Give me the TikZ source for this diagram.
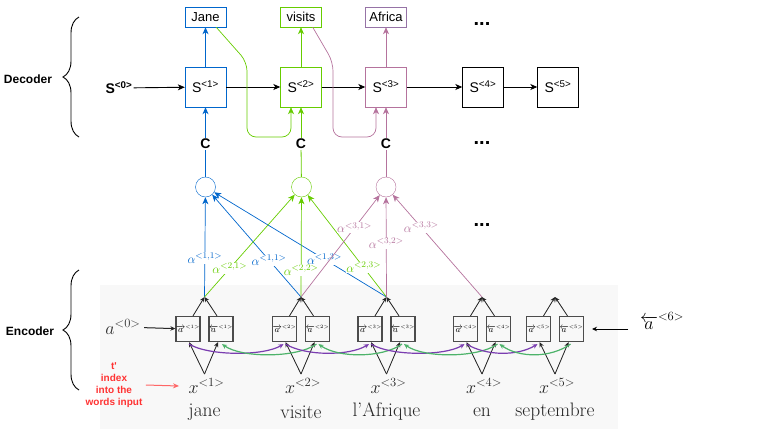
\documentclass[tikz,border=0pt]{standalone}
\usepackage{fix-cm}
\usepackage{fontspec}
\usetikzlibrary{arrows.meta,decorations.pathreplacing,calc}
\newfontfamily\dsans{Liberation Sans}
\definecolor{cblue}{HTML}{0066CC}
\definecolor{cgreen}{HTML}{66CC00}
\definecolor{cpurp}{HTML}{B5739D}
\definecolor{cpurpb}{HTML}{9673A6}
\definecolor{rnnpurple}{HTML}{7A3DB0}
\definecolor{rnngreen}{HTML}{4DB36A}
\definecolor{shot}{HTML}{F8F8F8}
\definecolor{redtxt}{HTML}{FF3333}
\definecolor{redarr}{HTML}{FF6666}
\begin{document}
\begin{tikzpicture}[x=1pt,y=-1pt,
  decbox/.style={draw, minimum width=41pt, minimum height=40pt, inner sep=0pt, font=\dsans\fontsize{14}{14}\selectfont},
  outbox/.style={draw, minimum width=41pt, minimum height=20pt, inner sep=0pt, font=\dsans\fontsize{13}{13}\selectfont},
  darr/.style={-{Stealth[length=7pt,width=6pt,inset=2pt]}, line width=0.9pt},
  aarr/.style={-{Stealth[length=7pt,width=6pt,inset=2pt]}, line width=0.7pt},
  earr/.style={-{Stealth[length=5pt,width=4.5pt]}, line width=0.8pt, draw=black!85, fill=black!85},
  rarr/.style={-{Stealth[length=5pt,width=4.5pt]}, line width=1.2pt},
  attc/.style={circle, draw, minimum size=20pt, inner sep=0pt},
  clab/.style={font=\dsans\bfseries\fontsize{14}{14}\selectfont, inner sep=1pt},
  alab/.style={font=\fontsize{12.5}{12.5}\selectfont, fill=white, inner sep=0.5pt},
  ebox/.style={draw=black!70, line width=1.2pt, minimum width=24pt, minimum height=25pt, inner sep=0pt, font=\fontsize{9}{9}\selectfont},
  xlab/.style={font=\fontsize{18}{18}\selectfont, text=black!85},
  wordlab/.style={font=\fontsize{19.5}{19.5}\selectfont, text=black!85},
  dots/.style={font=\dsans\bfseries\fontsize{20}{20}\selectfont},
  side/.style={font=\dsans\bfseries\fontsize{12}{12}\selectfont},
  bracedec/.style={decorate, decoration={brace, amplitude=16pt, aspect=0.5}, line width=0.9pt}
]
\useasboundingbox (0,0) rectangle (763,429);
% screenshot background
\fill[shot] (100,285) rectangle (618,429);

% ---------------- Decoder ----------------
\node[outbox, draw=cblue] (o1) at (205.5,17) {Jane};
\node[outbox, draw=cgreen] (o2) at (301,17) {visits};
\node[outbox, draw=cpurpb] (o3) at (386,17) {Africa};

\node[decbox, draw=cblue] (s1) at (205.5,87) {S\textsuperscript{<1>}};
\node[decbox, draw=cgreen] (s2) at (301,87) {S\textsuperscript{<2>}};
\node[decbox, draw=cpurp] (s3) at (386,87) {S\textsuperscript{<3>}};
\node[decbox] (s4) at (483,87) {S\textsuperscript{<4>}};
\node[decbox] (s5) at (558,87) {S\textsuperscript{<5>}};
\node[font=\dsans\bfseries\fontsize{14}{14}\selectfont, inner sep=1pt] (s0) at (119,88) {S\textsuperscript{<0>}};

\draw[darr] (s0) -- (s1);
\draw[darr] (s1) -- (s2);
\draw[darr] (s2) -- (s3);
\draw[darr] (s3) -- (s4);
\draw[darr] (s4) -- (s5);

\draw[darr, cblue] (s1) -- (o1);
\draw[darr, cgreen] (s2) -- (o2);
\draw[darr, cpurp] (s3) -- (o3);

\node[dots] (d1) at (482,24) {...};
\node[dots] (d2) at (482,143) {...};
\node[dots] (d3) at (482,225) {...};

% context nodes
\node[clab] (c1) at (205.5,144) {C};
\node[clab] (c2) at (301,144) {C};
\node[clab] (c3) at (386,144) {C};
\draw[darr, cblue] (c1) -- (s1);
\draw[darr, cgreen] (c2) -- (s2);
\draw[darr, cpurp] (c3) -- (s3);

% attention circles
\node[attc, draw=cblue] (a1) at (205.5,187) {};
\node[attc, draw=cgreen] (a2) at (301.5,187) {};
\node[attc, draw=cpurp] (a3) at (386,187) {};
\draw[cblue, line width=0.8pt] (a1) -- (c1);
\draw[cgreen, line width=0.8pt] (a2) -- (c2);
\draw[cpurp, line width=0.8pt] (a3) -- (c3);

% feedback of previous outputs
\draw[darr, cgreen, line width=0.7pt, rounded corners=9pt]
  ($(o1.south east)+(-10,0)$) -- (247,62) -- (247,137) -- (291,137) -- ($(s2.south)+(-10,0)$);
\draw[darr, cpurp, line width=0.7pt, rounded corners=9pt]
  ($(o2.south east)+(-9,0)$) -- (333,62) -- (333,137) -- (376,137) -- ($(s3.south)+(-10,0)$);

% ---------------- Encoder ----------------
\foreach \i/\c/\w in {1/204.5/jane,2/301/visite,3/386.5/l'Afrique,4/482/en,5/555/septembre} {
  \node[ebox] (f\i) at (\c-16.5,329) {$\overrightarrow{a}^{\scriptscriptstyle<\i>}$};
  \node[ebox] (b\i) at (\c+16.5,329) {$\overleftarrow{a}^{\scriptscriptstyle<\i>}$};
  \coordinate (j\i) at (\c,297);
  \node[xlab] (x\i) at (\c+2,386) {$x^{<\i>}$};
  \coordinate (xs\i) at (\c,374);
  \node[wordlab] (w\i) at (\c,412) {\w};
  \draw[earr] ($(f\i.north)+(5,0)$) -- (j\i);
  \draw[earr] ($(b\i.north)+(-4,0)$) -- (j\i);
  \draw[earr] (xs\i) -- ($(f\i.south)+(1,0)$);
  \draw[earr] (xs\i) -- ($(b\i.south)+(-3,0)$);
}

% bidirectional connections
\foreach \p/\n in {1/2,2/3,3/4,4/5} {
  \draw[rarr, rnnpurple] ($(f\p.south)+(1,2)$) .. controls +(20,12) and +(-20,12) .. ($(f\n.south)+(-1,2)$);
  \draw[rarr, rnngreen] ($(b\n.south)+(-1,2)$) .. controls +(-20,14) and +(20,14) .. ($(b\p.south)+(1,2)$);
}

% initial states
\node[font=\fontsize{18}{18}\selectfont, text=black!80] (a0) at (123,327) {$a^{<0>}$};
\draw[earr, line width=1pt] (a0) -- (f1);
\node[font=\fontsize{18}{18}\selectfont] (a6) at (662,321) {$\overleftarrow{a}^{<6>}$};
\coordinate (a6s) at (628,329);
\coordinate (a6e) at (592,329);
\draw[earr, line width=1pt, draw=black, fill=black] (a6s) -- (a6e);

% attention weights
\draw[aarr, cblue] (j1) -- node[alab, pos=0.39] {$\alpha^{<1,1>}$} (a1);
\draw[aarr, cblue] (j2) -- node[alab, pos=0.36] {$\alpha^{<1,1>}$} (a1);
\draw[aarr, cblue] (j3) -- node[alab, pos=0.36] {$\alpha^{<1,3>}$} (a1);
\draw[aarr, cgreen] (j1) -- node[alab, pos=0.28] {$\alpha^{<2,1>}$} (a2);
\draw[aarr, cgreen] (j2) -- node[alab, pos=0.27] {$\alpha^{<2,2>}$} (a2);
\draw[aarr, cgreen] (j3) -- node[alab, pos=0.29] {$\alpha^{<2,3>}$} (a2);
\draw[aarr, cpurp] (j2) -- node[alab, pos=0.68] {$\alpha^{<3,1>}$} (a3);
\draw[aarr, cpurp] (j3) -- node[alab, pos=0.54] {$\alpha^{<3,2>}$} (a3);
\draw[aarr, cpurp] (j4) -- node[alab, pos=0.68] {$\alpha^{<3,3>}$} (a3);

% side labels
\node[side] (dec) at (28,79) {Decoder};
\node[side] (enc) at (30,331) {Encoder};
\draw[bracedec] (79,137) -- (79,17);
\draw[bracedec] (79,390) -- (79,270);

% red annotation
\node[font=\dsans\bfseries\fontsize{10}{12}\selectfont, text=redtxt, align=center] (tp) at (114,385) {t'\\index\\into the\\words input};
\draw[-{Stealth[length=6pt,width=5pt]}, redarr, line width=1pt] (tp.east) -- ($(x1.west)+(-6,0)$);
\end{tikzpicture}
\end{document}
